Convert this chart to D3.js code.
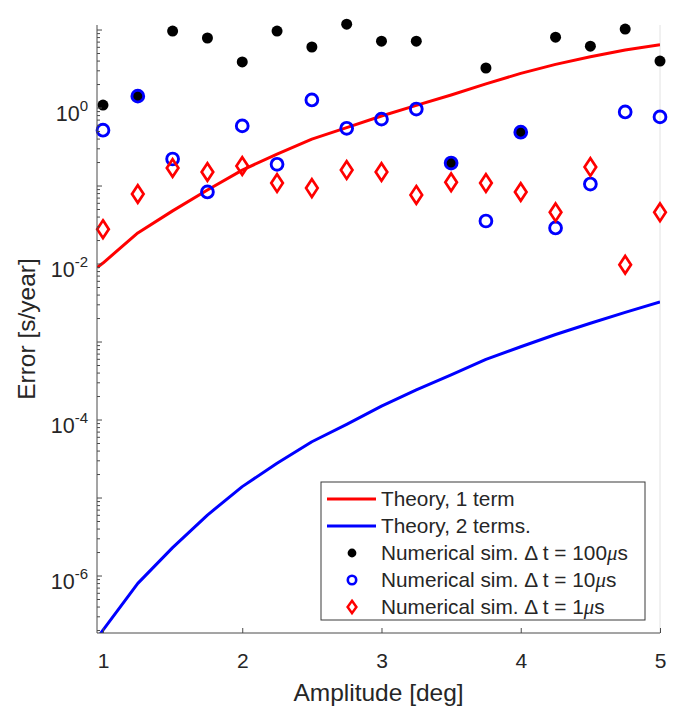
<!DOCTYPE html>
<html>
<head>
<meta charset="utf-8">
<script src="https://cdn.jsdelivr.net/npm/d3@7"></script>
<style>
  body { margin: 0; background: #fff; }
  svg { display: block; }
  text { font-family: "Liberation Sans", Arial, Helvetica, sans-serif; fill: #262626; }
</style>
</head>
<body>
<svg id="chart" width="684" height="709"></svg>
<script>
// Simulation amplitudes (deg)
const amplitude = [1, 1.25, 1.5, 1.75, 2, 2.25, 2.5, 2.75, 3, 3.25, 3.5, 3.75, 4, 4.25, 4.5, 4.75, 5];
// Theory curves are evaluated on a grid that starts just below 1 deg
const amplitudeTheory = [0.96, 1, 1.25, 1.5, 1.75, 2, 2.25, 2.5, 2.75, 3, 3.25, 3.5, 3.75, 4, 4.25, 4.5, 4.75, 5];
const theory1 = [0.0091, 0.0103, 0.025, 0.048, 0.089, 0.16, 0.257, 0.40, 0.56, 0.79, 1.08, 1.47, 2.04, 2.78, 3.63, 4.54, 5.54, 6.48];
const theory2 = [1.6e-7, 2.03e-7, 8.05e-7, 2.31e-6, 6.05e-6, 1.40e-5, 2.79e-5, 5.27e-5, 8.81e-5, 1.51e-4, 2.43e-4, 3.78e-4, 6.0e-4, 8.7e-4, 1.25e-3, 1.74e-3, 2.40e-3, 3.26e-3];
// Numerical simulation errors (s/year)
const sim100us = [1.09, 1.42, 9.7, 7.9, 3.9, 9.7, 6.06, 11.9, 7.2, 7.2, 0.197, 3.26, 0.49, 8.1, 6.2, 10.3, 4.0];
const sim10us  = [0.52, 1.42, 0.222, 0.084, 0.59, 0.19, 1.27, 0.55, 0.72, 0.97, 0.197, 0.0356, 0.49, 0.029, 0.106, 0.89, 0.77];
const sim1us   = [0.028, 0.079, 0.17, 0.151, 0.18, 0.109, 0.094, 0.16, 0.151, 0.077, 0.112, 0.109, 0.084, 0.046, 0.175, 0.0098, 0.046];
// Axis ticks
const xTicks = [1, 2, 3, 4, 5];
const yLabelExponents = [0, -2, -4, -6];
const legendLabels = ["Theory, 1 term", "Theory, 2 terms.", "Numerical sim. \u0394 t = 100", "Numerical sim. \u0394 t = 10", "Numerical sim. \u0394 t = 1"];

const svg = d3.select("#chart");
const plot = { left: 97, right: 660, top: 25, bottom: 633 };

const x = d3.scaleLinear().domain([0.957, 5]).range([plot.left, plot.right]);
const y = d3.scaleLog().domain([1.86e-7, 11.6]).range([plot.bottom, plot.top]);

const axisColor = "#4a4a4a";

// clip for curves
svg.append("defs").append("clipPath").attr("id", "plotClip")
  .append("rect")
  .attr("x", plot.left).attr("y", plot.top)
  .attr("width", plot.right - plot.left).attr("height", plot.bottom - plot.top);

// faint right boundary
svg.append("line")
  .attr("x1", plot.right).attr("x2", plot.right)
  .attr("y1", plot.top).attr("y2", plot.bottom)
  .attr("stroke", "#e2e2e2").attr("stroke-width", 1);

// ---- theory curves ----
const line = (vals) => d3.line()
  .x((d, i) => x(amplitudeTheory[i]))
  .y(d => y(d))(vals);

const curves = svg.append("g").attr("clip-path", "url(#plotClip)");
curves.append("path").attr("d", line(theory1))
  .attr("fill", "none").attr("stroke", "#ff0000").attr("stroke-width", 3).attr("stroke-linejoin", "round");
curves.append("path").attr("d", line(theory2))
  .attr("fill", "none").attr("stroke", "#0000ff").attr("stroke-width", 3).attr("stroke-linejoin", "round");

// ---- simulation markers ----
const diamond = (hw, hh) => `M0,${-hh}L${hw},0L0,${hh}L${-hw},0Z`;

svg.append("g").selectAll("circle").data(sim100us).join("circle")
  .attr("cx", (d, i) => x(amplitude[i])).attr("cy", d => y(d))
  .attr("r", 5.5).attr("fill", "#000");

svg.append("g").selectAll("circle").data(sim10us).join("circle")
  .attr("cx", (d, i) => x(amplitude[i])).attr("cy", d => y(d))
  .attr("r", 5.9).attr("fill", "none").attr("stroke", "#0000ff").attr("stroke-width", 2.9);

svg.append("g").selectAll("path").data(sim1us).join("path")
  .attr("transform", (d, i) => `translate(${x(amplitude[i])},${y(d)})`)
  .attr("d", diamond(5.8, 8.8))
  .attr("fill", "none").attr("stroke", "#ff0000").attr("stroke-width", 2.7).attr("stroke-linejoin", "miter");

// ---- axes ----
const xAxis = svg.append("g").attr("transform", `translate(0,${plot.bottom})`)
  .call(d3.axisBottom(x).tickValues(xTicks).tickSize(-5).tickPadding(14).tickFormat(d3.format("d")));
xAxis.select(".domain").attr("d", `M${plot.left},0H${plot.right}`).attr("stroke", axisColor);
xAxis.selectAll(".tick line").attr("stroke", axisColor);
xAxis.selectAll(".tick text").attr("font-size", 21).attr("fill", "#262626")
  .attr("font-family", "Liberation Sans, Arial, sans-serif").attr("dy", "1.0em");

// y axis: major decade ticks + minor ticks
const [yMin, yMax] = y.domain();
const majorTicks = [];
const minorTicks = [];
for (let k = -7; k <= 1; k++) {
  const v = Math.pow(10, k);
  if (v >= yMin && v <= yMax) majorTicks.push(v);
  for (let m = 2; m <= 9; m++) {
    const mv = m * v;
    if (mv >= yMin && mv <= yMax) minorTicks.push(mv);
  }
}
const yAxis = svg.append("g").attr("transform", `translate(${plot.left},0)`);
yAxis.append("line").attr("x1", 0).attr("x2", 0).attr("y1", plot.top).attr("y2", plot.bottom)
  .attr("stroke", axisColor);
yAxis.selectAll(".major").data(majorTicks).join("line").attr("class", "major")
  .attr("x1", 0).attr("x2", 5).attr("y1", d => y(d)).attr("y2", d => y(d)).attr("stroke", axisColor);
yAxis.selectAll(".minor").data(minorTicks).join("line").attr("class", "minor")
  .attr("x1", 0).attr("x2", 3).attr("y1", d => y(d)).attr("y2", d => y(d)).attr("stroke", axisColor);

const yLabels = svg.append("g");
yLabelExponents.forEach(e => {
  const t = yLabels.append("text")
    .attr("x", 88).attr("y", y(Math.pow(10, e)) + 13)
    .attr("text-anchor", "end").attr("font-size", 21.5);
  t.append("tspan").text("10");
  t.append("tspan").attr("font-size", 15).attr("dy", -10).text(e === 0 ? "0" : "-" + Math.abs(e));
});

// axis titles
svg.append("text").attr("x", (plot.left + plot.right) / 2).attr("y", 701)
  .attr("text-anchor", "middle").attr("font-size", 24.5).text("Amplitude [deg]");
svg.append("text").attr("transform", `translate(35,${(plot.top + plot.bottom) / 2}) rotate(-90)`)
  .attr("text-anchor", "middle").attr("font-size", 24.5).text("Error [s/year]");

// ---- legend ----
const lg = svg.append("g");
lg.append("rect").attr("x", 321).attr("y", 482).attr("width", 324).attr("height", 138)
  .attr("fill", "#fff").attr("stroke", "#3a3a3a").attr("stroke-width", 1);
const rowY = i => 499 + i * 27;
const symX = 352;
lg.append("line").attr("x1", 327).attr("x2", 376).attr("y1", rowY(0)).attr("y2", rowY(0))
  .attr("stroke", "#ff0000").attr("stroke-width", 3);
lg.append("line").attr("x1", 327).attr("x2", 376).attr("y1", rowY(1)).attr("y2", rowY(1))
  .attr("stroke", "#0000ff").attr("stroke-width", 3);
lg.append("circle").attr("cx", symX).attr("cy", rowY(2)).attr("r", 4.4).attr("fill", "#000");
lg.append("circle").attr("cx", symX).attr("cy", rowY(3)).attr("r", 4.2)
  .attr("fill", "none").attr("stroke", "#0000ff").attr("stroke-width", 2.6);
lg.append("path").attr("transform", `translate(${symX},${rowY(4)})`).attr("d", diamond(4.4, 6.2))
  .attr("fill", "none").attr("stroke", "#ff0000").attr("stroke-width", 2.5);

legendLabels.forEach((label, i) => {
  const t = lg.append("text").attr("x", 381).attr("y", rowY(i) + 7).attr("font-size", 20.8);
  t.append("tspan").text(label);
  if (i >= 2) {
    t.append("tspan").attr("font-style", "italic").attr("font-family", "Liberation Serif, serif").text("\u03bc");
    t.append("tspan").text("s");
  }
});
</script>
</body>
</html>
